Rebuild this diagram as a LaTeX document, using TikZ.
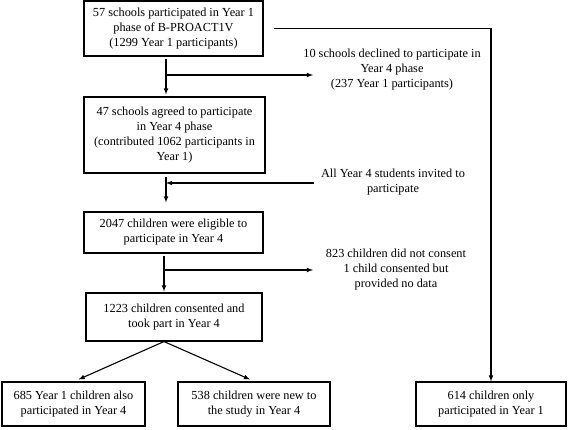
\documentclass[tikz,border=0pt]{standalone}
\usepackage{fontspec}
\setmainfont{Liberation Serif}
\usetikzlibrary{arrows,calc,positioning}

\begin{document}
\begin{tikzpicture}[x=1pt,y=-1pt,>=latex,line width=1.1pt,
	box/.style={draw,align=center,inner sep=0pt,font=\fontsize{12.3}{15}\selectfont},
	note/.style={align=center,inner sep=0pt,font=\fontsize{12.3}{15}\selectfont}]
	\useasboundingbox (0,0) rectangle (568,430);
	% boxes
	\node[box,minimum width=179pt,minimum height=55pt] (y1) at (173.5,28.5)
		{57 schools participated in Year 1\\phase of B-PROACT1V\\(1299 Year 1 participants)};
	\node[box,minimum width=181pt,minimum height=76pt] (agreed) at (174.5,135)
		{47 schools agreed to participate\\in Year 4 phase\\(contributed 1062 participants in\\Year 1)};
	\node[box,minimum width=179pt,minimum height=41pt] (elig) at (173.5,232.5)
		{2047 children were eligible to\\participate in Year 4};
	\node[box,minimum width=176pt,minimum height=48pt] (took) at (174,317)
		{1223 children consented and\\took part in Year 4};
	\node[box,minimum width=143pt,minimum height=44pt] (also) at (73.5,404)
		{685 Year 1 children also\\participated in Year 4};
	\node[box,minimum width=152pt,minimum height=44pt] (new) at (254,404)
		{538 children were new to\\the study in Year 4};
	\node[box,minimum width=150pt,minimum height=44pt] (only) at (491,404)
		{614 children only\\participated in Year 1};
	% side notes
	\node[note] (decl) at (392,70)
		{10 schools declined to participate in\\Year 4 phase\\(237 Year 1 participants)};
	\node[note] (invit) at (393,182.5)
		{All Year 4 students invited to\\participate};
	\node[note] (nocons) at (396,270)
		{823 children did not consent\\1 child consented but\\provided no data};
	% spine
	\coordinate (sp) at (166,0);
	\coordinate (j1) at (166,75);
	\coordinate (j2) at (166,183);
	\coordinate (j3) at (164,270);
	\draw[->,shorten <=2pt,shorten >=2pt] (y1.south -| sp) -- (agreed.north -| sp);
	\draw[->,shorten <=3pt,shorten >=9pt] (agreed.south -| sp) -- (elig.north -| sp);
	\draw[->,shorten <=2pt,shorten >=1pt] (elig.south -| j3) -- (took.north -| j3);
	\draw[->] (j1) -- ++(147,0);
	\draw[->] (invit.west |- j2) ++(-6,0) -- (j2);
	\draw[->] (j3) -- ++(149,0);
	% right branch
	\draw[->] ($(y1.east)+(10,0)$) -| (only.north);
	% split
	\draw[->] (took.south -| j3) -- ($(also.north)+(5,-2)$);
	\draw[->] (took.south -| j3) -- ($(new.north)+(-4,-2)$);
\end{tikzpicture}
\end{document}
